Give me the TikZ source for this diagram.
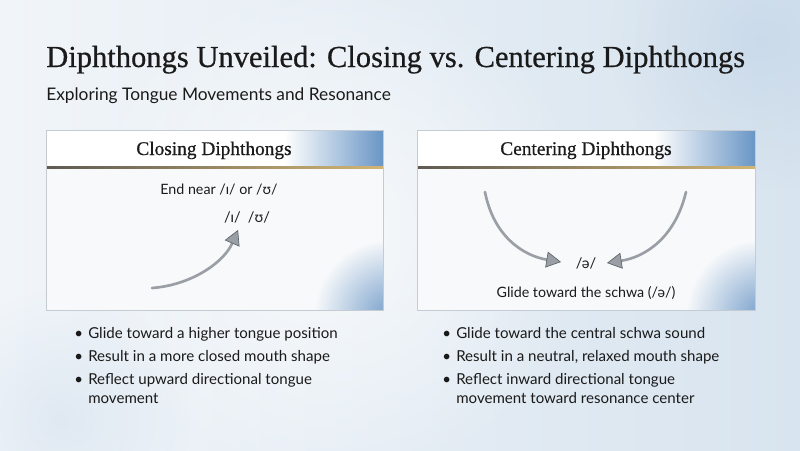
\documentclass[tikz,border=0pt]{standalone}
\usepackage{fontspec}
\setmainfont{Lato}
\newfontfamily\headfont[FakeBold=0.6]{Liberation Serif}
\usetikzlibrary{arrows.meta}
\usetikzlibrary{fadings}

\definecolor{bgwhite}{HTML}{F1F5F9}
\definecolor{bgblue}{HTML}{D8E4EF}
\definecolor{panelbody}{HTML}{F7F9FB}
\definecolor{panelrule}{HTML}{C5CBD2}
\definecolor{headblue}{HTML}{6A96C6}
\definecolor{ruledark}{HTML}{5E5A52}
\definecolor{rulegold}{HTML}{D2B574}
\definecolor{arrowgray}{HTML}{9A9FA6}
\definecolor{arrowedge}{HTML}{5F656C}
\definecolor{ink}{HTML}{1A1A1A}

\tikzfading[name=softblob, inner color=transparent!0, outer color=transparent!100]
\tikzfading[name=fadeeast, left color=transparent!100, right color=transparent!0]

\tikzset{
  titletext/.style={anchor=base west, inner sep=0, text=ink, font=\headfont\fontsize{22.9}{26}\selectfont},
  subtext/.style={anchor=base west, inner sep=0, text=ink, font=\fontsize{13}{15}\selectfont},
  panelhead/.style={anchor=base, inner sep=0, text=ink, font=\headfont\fontsize{14.5}{17}\selectfont},
  smalltext/.style={anchor=base, inner sep=0, text=ink, font=\fontsize{10.7}{13}\selectfont},
  ipatext/.style={anchor=base, inner sep=0, text=ink, font=\fontsize{11}{13}\selectfont},
  bulletitem/.style={anchor=base west, inner sep=0, text=ink, font=\fontsize{11.3}{14.25}\selectfont},
  glide/.style={line width=2pt, arrowgray, line cap=round,
    -{Triangle[width=12pt,length=11pt,fill=arrowgray,color=arrowedge,line width=0.5pt]}},
}
\newcommand{\bulitem}[1]{\begin{tabular}[t]{@{}p{10.5pt}@{}l@{}}\textbullet & #1\end{tabular}}

\begin{document}
\begin{tikzpicture}[x=0.75pt,y=0.75pt,yscale=-1,xscale=1]
\useasboundingbox (0,0) rectangle (800,450);

%Background
\fill[left color=bgwhite, right color=bgblue] (0,0) rectangle (800,450);
\fill[white, path fading=softblob, opacity=0.7] (330,230) circle (260);
\fill[headblue!45, path fading=softblob, opacity=0.5] (760,40) circle (150);
\fill[headblue!40, path fading=softblob, opacity=0.35] (60,420) circle (130);

%Panel: Closing
\fill[panelbody] (46,130) rectangle (383,310);
\fill[white] (46,130) rectangle (383,167);
\fill[headblue, path fading=fadeeast] (285,130) rectangle (383,167);
\begin{scope}
  \clip (46,130) rectangle (383,310);
  \fill[headblue, path fading=softblob, opacity=0.9] (390,315) circle (75);
\end{scope}
\shade[left color=ruledark, middle color=ruledark!80!rulegold, right color=rulegold] (46,166.8) rectangle (383,168.6);
\draw[panelrule, line width=0.6pt] (46,130) rectangle (383,310);

%Panel: Centering
\fill[panelbody] (417,130) rectangle (755,310);
\fill[white] (417,130) rectangle (755,167);
\fill[headblue, path fading=fadeeast] (655,130) rectangle (755,167);
\begin{scope}
  \clip (417,130) rectangle (755,310);
  \fill[headblue, path fading=softblob, opacity=0.9] (762,315) circle (75);
\end{scope}
\shade[left color=ruledark, middle color=ruledark!80!rulegold, right color=rulegold] (417,166.8) rectangle (755,168.6);
\draw[panelrule, line width=0.6pt] (417,130) rectangle (755,310);

% Text Node
\node[titletext] (title) at (46,67) {Diphthongs Unveiled: Closing vs. Centering Diphthongs};
% Text Node
\node[subtext] (subtitle) at (46,100) {Exploring Tongue Movements and Resonance};

% Text Node
\node[panelhead] (closehead) at (214,155) {Closing Diphthongs};
\node[smalltext] (closenote) at (219,194) {End near /ɪ/ or /ʊ/};
\node[ipatext] (closeipa) at (247,222) {/ɪ/\enspace/ʊ/};

% Text Node
\node[panelhead] (centerhead) at (586,155) {Centering Diphthongs};
\node[ipatext] (schwa) at (586,268) {/ə/};
\node[smalltext] (centernote) at (586,297) {Glide toward the schwa (/ə/)};

%Arrows
\coordinate (closestart) at (152,288);
\coordinate (closetip) at (238,230);
\draw[glide] (closestart) .. controls (192,285) and (224,262) .. (closetip);
\coordinate (leftstart) at (485,192);
\coordinate (lefttip) at (561,262);
\draw[glide] (leftstart) .. controls (494,238) and (525,256) .. (lefttip);
\coordinate (rightstart) at (686,192);
\coordinate (righttip) at (607,263);
\draw[glide] (rightstart) .. controls (675,238) and (645,257) .. (righttip);

% Bullets
\node[bulletitem] (close1) at (74,338) {\bulitem{Glide toward a higher tongue position}};
\node[bulletitem] (close2) at (74,361) {\bulitem{Result in a more closed mouth shape}};
\node[bulletitem] (close3) at (74,384) {\bulitem{Reflect upward directional tongue\\ & movement}};
\node[bulletitem] (center1) at (442,338) {\bulitem{Glide toward the central schwa sound}};
\node[bulletitem] (center2) at (442,361) {\bulitem{Result in a neutral, relaxed mouth shape}};
\node[bulletitem] (center3) at (442,384) {\bulitem{Reflect inward directional tongue\\ & movement toward resonance center}};

\end{tikzpicture}
\end{document}
